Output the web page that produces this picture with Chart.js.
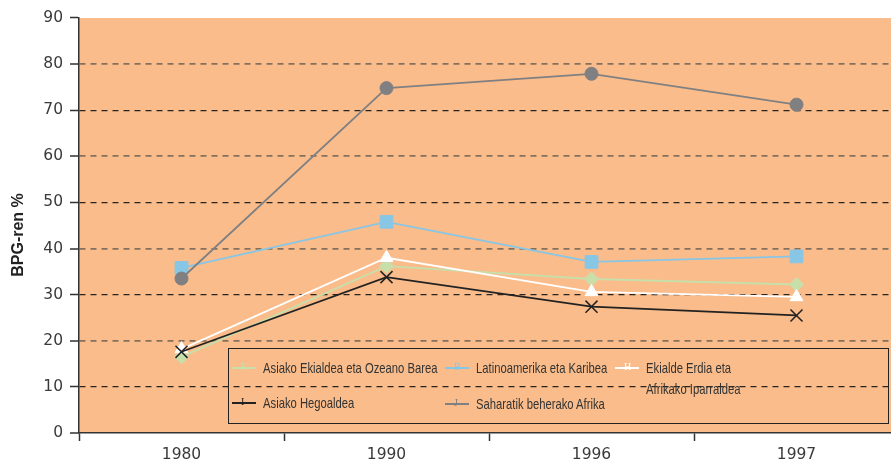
<!DOCTYPE html>
<html>
<head>
<meta charset="utf-8">
<script src="https://cdn.jsdelivr.net/npm/chart.js@4"></script>
<style>
  html, body { margin: 0; padding: 0; background: #fff; overflow: hidden; }
  #wrap { position: relative; width: 891px; height: 464px; overflow: hidden; font-family: "Liberation Sans", Arial, sans-serif; }
  #chart { position: absolute; left: 0; top: 0; }
  #ytitle {
    position: absolute; left: 18px; top: 235px; width: 120px; height: 18px;
    margin-left: -60px; margin-top: -9px; text-align: center; line-height: 18px;
    transform: rotate(-90deg); font: bold 16px "Liberation Sans", Arial, sans-serif; color: #222;
    white-space: nowrap;
  }
  #legend {
    position: absolute; left: 228px; top: 348px; width: 661px; height: 76px;
    border: 1px solid #222; box-sizing: border-box; color: #333;
    font: 15px "Liberation Sans", Arial, sans-serif;
  }
  .item { position: absolute; line-height: 21px; white-space: nowrap; }
  .sym { position: absolute; width: 24px; height: 21px; }
  .sym i { position: absolute; left: 0; right: 0; top: 10px; height: 2px; }
  .sym b { position: absolute; left: 9px; top: 4px; font: 10px "Liberation Serif", serif; }
  .txt { position: absolute; left: 31px; top: 0; transform: scaleX(0.75); transform-origin: 0 50%; }
</style>
</head>
<body>
<div id="wrap">
  <canvas id="chart" width="899" height="464"></canvas>
  <div id="ytitle">BPG-ren %</div>
  <div id="legend"></div>
</div>
<script>
// Datuak
const years = ['1980', '1990', '1996', '1997'];
const asiakoEkialdea = [16.5, 36.2, 33.4, 32.2];
const latinoamerika = [35.8, 45.8, 37.1, 38.3];
const ekialdeErdia = [18.2, 38.0, 30.6, 29.5];
const asiakoHegoaldea = [17.6, 33.8, 27.4, 25.5];
const saharatik = [33.5, 74.8, 77.9, 71.2];
const yMin = 0, yMax = 90, yStep = 10;

const seriesNames = [
    'Asiako Ekialdea eta Ozeano Barea',
    'Latinoamerika eta Karibea',
    'Ekialde Erdia eta Afrikako Iparraldea',
    'Asiako Hegoaldea',
    'Saharatik beherako Afrika'
];

const plotBg = {
    id: 'plotBg',
    beforeDraw(chart) {
        const a = chart.chartArea;
        const ctx = chart.ctx;
        ctx.save();
        ctx.fillStyle = '#F9BC8A';
        ctx.fillRect(a.left, a.top, a.right - a.left, a.bottom - a.top);
        ctx.restore();
    }
};

function ds(label, data, color, style, radius, width) {
    return {
        label: label,
        data: data,
        borderColor: color,
        backgroundColor: color,
        pointBackgroundColor: color,
        pointBorderColor: color,
        pointStyle: style,
        pointRadius: radius,
        pointBorderWidth: style === 'crossRot' ? 1.5 : 1,
        borderWidth: width,
        tension: 0
    };
}

// Plota ezkerretik 79px-tan hasten da eta eskuineko ertza koadrotik kanpo geratzen da
new Chart(document.getElementById('chart'), {
    type: 'line',
    data: {
        labels: years,
        datasets: [
            ds(seriesNames[4], saharatik, '#808083', 'circle', 6.5, 1.8),
            ds(seriesNames[1], latinoamerika, '#88C6E6', 'rect', 9, 1.8),
            ds(seriesNames[3], asiakoHegoaldea, '#222222', 'crossRot', 8.5, 1.6),
            ds(seriesNames[2], ekialdeErdia, '#FFFFFF', 'triangle', 7.5, 1.8),
            ds(seriesNames[0], asiakoEkialdea, '#C8DFAA', 'rectRot', 7, 1.8)
        ]
    },
    options: {
        responsive: false,
        animation: false,
        layout: { autoPadding: false, padding: { top: 18, right: 0, left: 0, bottom: 0 } },
        plugins: {
            legend: { display: false },
            tooltip: { enabled: false }
        },
        scales: {
            x: {
                offset: true,
                afterFit(scale) {
                    scale.height = 31;
                    scale.paddingLeft = 0;
                    scale.paddingRight = 0;
                },
                border: { color: '#333', width: 1.5 },
                grid: {
                    offset: true,
                    drawOnChartArea: false,
                    tickLength: 8,
                    tickColor: '#333',
                    tickWidth: 1.5
                },
                ticks: {
                    color: '#3a3a3a',
                    font: { family: 'DejaVu Sans', size: 15.5 },
                    padding: 5,
                    maxRotation: 0
                }
            },
            y: {
                min: yMin,
                max: yMax,
                afterFit(scale) {
                    scale.width = 79;
                    scale.paddingTop = 0;
                    scale.paddingBottom = 0;
                },
                border: { color: '#333', width: 1.5, dash: [6, 5] },
                grid: {
                    color(ctx) {
                        const v = ctx.tick ? ctx.tick.value : 0;
                        if (v === yMin || v === yMax) return 'rgba(0,0,0,0)';
                        return (v / yStep) % 2 === 0 ? '#85705E' : '#2A2420';
                    },
                    lineWidth(ctx) {
                        const v = ctx.tick ? ctx.tick.value : 0;
                        return (v / yStep) % 2 === 0 ? 1.8 : 1.2;
                    },
                    tickLength: 9,
                    tickColor: '#333',
                    tickWidth: 1.5,
                    tickBorderDash: [1, 0]
                },
                ticks: {
                    stepSize: yStep,
                    color: '#3a3a3a',
                    font: { family: 'DejaVu Sans', size: 15.5 },
                    padding: 7
                }
            }
        }
    },
    plugins: [plotBg]
});

// Legenda
const legendItems = [
    { name: seriesNames[0], color: '#C8DFAA', glyph: 'F', x: 3, y: 8 },
    { name: seriesNames[1], color: '#88C6E6', glyph: 'B', x: 216, y: 8 },
    { name: 'Ekialde Erdia eta<br>Afrikako Iparraldea', color: '#FFFFFF', glyph: 'H', x: 386, y: 8 },
    { name: seriesNames[3], color: '#222222', glyph: 'I', x: 3, y: 43 },
    { name: seriesNames[4], color: '#808083', glyph: 'J', x: 216, y: 44 }
];
const legend = document.getElementById('legend');
legendItems.forEach(it => {
    const el = document.createElement('div');
    el.className = 'item';
    el.style.left = it.x + 'px';
    el.style.top = it.y + 'px';
    el.innerHTML = '<span class="sym"><i style="background:' + it.color + '"></i>' +
        '<b style="color:' + it.color + '">' + it.glyph + '</b></span>' +
        '<span class="txt">' + it.name + '</span>';
    legend.appendChild(el);
});
</script>
</body>
</html>
